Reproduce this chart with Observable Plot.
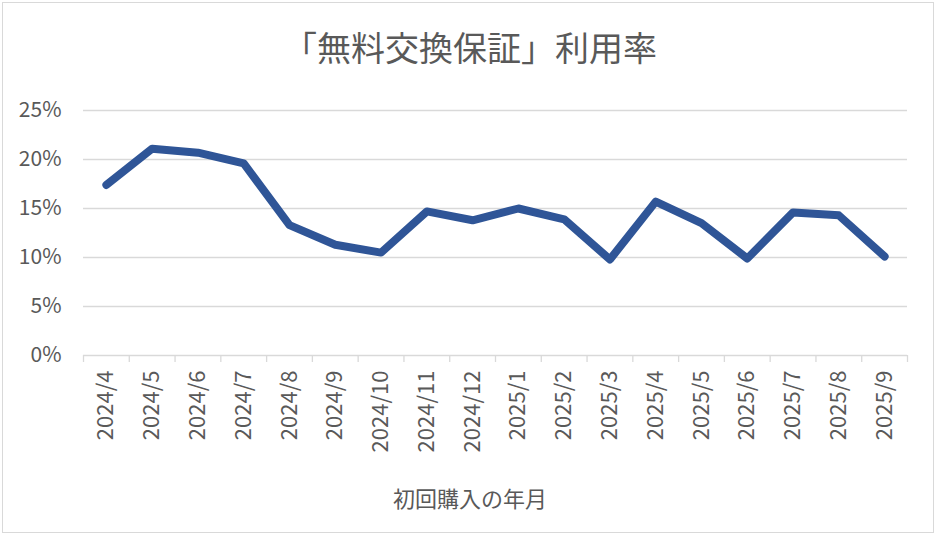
<!DOCTYPE html>
<html><head><meta charset="utf-8">
<script src="https://cdn.jsdelivr.net/npm/d3@7"></script>
<script src="https://cdn.jsdelivr.net/npm/@observablehq/plot@0.6"></script>
<style>
body{margin:0;background:#fff;width:940px;height:538px;overflow:hidden;}
#frame{position:absolute;left:2px;top:2px;width:932px;height:531px;border:1px solid #d9d9d9;box-sizing:border-box;}
#title{position:absolute;left:0;top:25px;width:940px;text-align:center;font-family:"Noto Sans CJK JP";font-size:34px;line-height:44px;color:#595959;}
#chart{position:absolute;left:0;top:82px;}
#xtitle{position:absolute;left:0;top:478px;width:940px;text-align:center;font-family:"Noto Sans CJK JP";font-size:22px;line-height:38px;color:#595959;}
</style>
</head><body>
<div id="frame"></div>
<div id="title">「無料交換保証」利用率</div>
<div id="chart"></div>
<div id="xtitle">初回購入の年月</div>
<script>
const months = ["2024/4","2024/5","2024/6","2024/7","2024/8","2024/9","2024/10","2024/11","2024/12","2025/1","2025/2","2025/3","2025/4","2025/5","2025/6","2025/7","2025/8","2025/9"];
const rates = [17.4, 21.1, 20.7, 19.6, 13.3, 11.3, 10.5, 14.7, 13.8, 15.0, 13.9, 9.8, 15.7, 13.5, 9.9, 14.6, 14.3, 10.1];
const yTicks = [0, 5, 10, 15, 20, 25];

const rows = months.map((m, i) => ({month: m, rate: rates[i]}));
const W = 940, H = 378, ML = 83, MR = 33, MT = 28, MB = 105;
const step = (W - ML - MR) / months.length;
const grid = "#d9d9d9";

const chart = Plot.plot({
  width: W, height: H,
  marginLeft: ML, marginRight: MR, marginTop: MT, marginBottom: MB,
  style: {fontFamily: "'Noto Sans CJK JP', sans-serif", fontSize: "20px", color: "#595959", background: "transparent"},
  x: {type: "point", domain: months, padding: 0.5, round: false},
  y: {domain: [0, 25]},
  marks: [
    Plot.gridY(yTicks.filter(d => d > 0), {stroke: grid, strokeOpacity: 1, strokeWidth: 1.3}),
    Plot.ruleY([0], {stroke: grid, strokeWidth: 1.3}),
    Plot.axisY({ticks: yTicks, tickFormat: d => d + "%", tickSize: 0, tickPadding: 22, label: null, fontSize: 21}),
    Plot.axisX({tickSize: 7, fill: "none", stroke: grid, strokeWidth: 1.3, dx: -step / 2, label: null}),
    Plot.axisX([months[months.length - 1]], {tickSize: 7, fill: "none", stroke: grid, strokeWidth: 1.3, dx: step / 2, label: null}),
    Plot.axisX({tickSize: 0, tickRotate: -90, tickPadding: 15, label: null, fontSize: 22}),
    Plot.line(rows, {x: "month", y: "rate", stroke: "#2F5597", strokeWidth: 8, strokeLinejoin: "round", strokeLinecap: "round"})
  ]
});
document.getElementById("chart").appendChild(chart);
</script>
</body></html>
